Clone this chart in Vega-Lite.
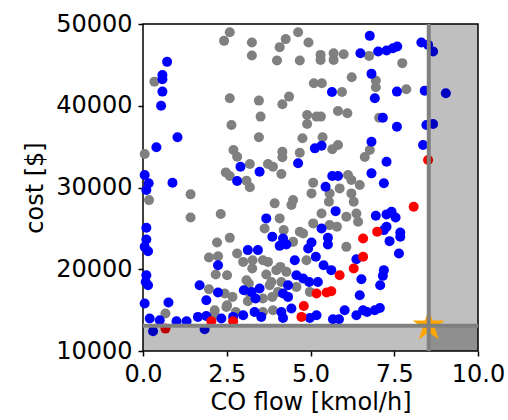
{
  "$schema": "https://vega.github.io/schema/vega-lite/v6.json",
  "width": 335,
  "height": 327,
  "autosize": {"type": "none"},
  "padding": {"left": 143, "top": 24, "right": 30, "bottom": 69},
  "background": "white",
  "config": {
    "font": "DejaVu Sans",
    "view": {"stroke": "black", "strokeWidth": 1.5},
    "axis": {
      "grid": false, "domain": false,
      "tickColor": "black", "tickSize": 5, "tickWidth": 1.5,
      "labelFont": "DejaVu Sans", "labelFontSize": 24, "labelColor": "black",
      "titleFont": "DejaVu Sans", "titleFontSize": 24, "titleFontWeight": "normal", "titleColor": "black",
      "labelFlush": false, "labelOverlap": false, "labelPadding": 6
    }
  },
  "datasets": {
    "pts": [
      {"x":2.59,"y":49000,"c":"gray"},{"x":2.42,"y":47940,"c":"gray"},{"x":3.25,"y":47730,"c":"gray"},{"x":3.25,"y":46140,"c":"gray"},{"x":0.34,"y":42950,"c":"gray"},{"x":2.59,"y":40920,"c":"gray"},{"x":2.64,"y":37650,"c":"gray"},{"x":0.05,"y":34100,"c":"gray"},{"x":2.70,"y":34590,"c":"gray"},{"x":2.81,"y":33770,"c":"gray"},{"x":3.19,"y":32870,"c":"gray"},{"x":2.47,"y":31850,"c":"gray"},{"x":2.59,"y":31400,"c":"gray"},{"x":3.09,"y":30830,"c":"gray"},{"x":3.19,"y":30020,"c":"gray"},
      {"x":4.63,"y":49000,"c":"gray"},{"x":4.26,"y":48150,"c":"gray"},{"x":4.08,"y":47170,"c":"gray"},{"x":4.94,"y":47730,"c":"gray"},{"x":4.00,"y":45530,"c":"gray"},{"x":4.68,"y":45530,"c":"gray"},{"x":5.30,"y":46220,"c":"gray"},{"x":5.30,"y":45610,"c":"gray"},{"x":5.69,"y":46430,"c":"gray"},{"x":5.69,"y":45610,"c":"gray"},{"x":5.99,"y":46310,"c":"gray"},{"x":5.10,"y":42760,"c":"gray"},{"x":5.34,"y":42760,"c":"gray"},{"x":6.23,"y":43490,"c":"gray"},{"x":5.94,"y":41690,"c":"gray"},{"x":4.36,"y":41120,"c":"gray"},{"x":4.16,"y":40180,"c":"gray"},{"x":3.46,"y":40630,"c":"gray"},{"x":3.51,"y":38670,"c":"gray"},{"x":4.90,"y":38870,"c":"gray"},{"x":5.18,"y":38670,"c":"gray"},{"x":5.31,"y":38670,"c":"gray"},{"x":4.90,"y":37770,"c":"gray"},{"x":5.82,"y":39360,"c":"gray"},{"x":6.10,"y":39080,"c":"gray"},{"x":3.46,"y":36140,"c":"gray"},{"x":4.76,"y":36020,"c":"gray"},{"x":5.36,"y":36140,"c":"gray"},{"x":5.65,"y":34670,"c":"gray"},{"x":5.82,"y":35200,"c":"gray"},{"x":4.16,"y":34380,"c":"gray"},{"x":4.16,"y":33690,"c":"gray"},{"x":4.68,"y":34260,"c":"gray"},{"x":3.73,"y":32870,"c":"gray"},{"x":3.88,"y":32540,"c":"gray"},{"x":4.13,"y":31650,"c":"gray"},{"x":6.12,"y":31520,"c":"gray"},{"x":6.22,"y":30910,"c":"gray"},{"x":6.47,"y":30300,"c":"gray"},{"x":5.08,"y":30580,"c":"gray"},{"x":6.62,"y":33730,"c":"gray"},
      {"x":6.75,"y":46100,"c":"gray"},{"x":7.74,"y":45210,"c":"gray"},{"x":6.95,"y":43080,"c":"gray"},{"x":6.95,"y":42270,"c":"gray"},{"x":7.86,"y":42020,"c":"gray"},{"x":7.05,"y":38540,"c":"gray"},{"x":6.77,"y":34590,"c":"gray"},
      {"x":0.18,"y":28460,"c":"gray"},{"x":1.42,"y":29160,"c":"gray"},{"x":1.42,"y":26340,"c":"gray"},{"x":2.32,"y":26750,"c":"gray"},{"x":2.21,"y":23280,"c":"gray"},{"x":2.59,"y":23840,"c":"gray"},{"x":1.97,"y":21440,"c":"gray"},{"x":2.24,"y":21600,"c":"gray"},{"x":2.81,"y":21930,"c":"gray"},{"x":2.99,"y":20900,"c":"gray"},{"x":3.27,"y":21110,"c":"gray"},{"x":2.17,"y":19360,"c":"gray"},{"x":2.51,"y":19270,"c":"gray"},{"x":1.97,"y":17560,"c":"gray"},{"x":2.44,"y":17030,"c":"gray"},{"x":2.67,"y":16620,"c":"gray"},{"x":3.16,"y":18260,"c":"gray"},{"x":3.13,"y":16090,"c":"gray"},{"x":2.51,"y":15600,"c":"gray"},{"x":2.14,"y":14990,"c":"gray"},{"x":0.67,"y":14580,"c":"gray"},{"x":2.14,"y":14370,"c":"gray"},
      {"x":3.93,"y":28060,"c":"gray"},{"x":4.48,"y":28460,"c":"gray"},{"x":4.43,"y":27850,"c":"gray"},{"x":5.03,"y":29280,"c":"gray"},{"x":5.57,"y":29280,"c":"gray"},{"x":5.87,"y":29890,"c":"gray"},{"x":6.22,"y":29280,"c":"gray"},{"x":5.55,"y":28250,"c":"gray"},{"x":6.29,"y":28250,"c":"gray"},{"x":5.33,"y":26830,"c":"gray"},{"x":6.07,"y":26420,"c":"gray"},{"x":6.37,"y":26830,"c":"gray"},{"x":6.42,"y":25800,"c":"gray"},{"x":4.08,"y":26220,"c":"gray"},{"x":3.63,"y":24990,"c":"gray"},{"x":4.68,"y":24580,"c":"gray"},{"x":5.08,"y":25610,"c":"gray"},{"x":5.57,"y":25400,"c":"gray"},{"x":5.79,"y":25190,"c":"gray"},{"x":6.07,"y":22740,"c":"gray"},{"x":3.58,"y":21110,"c":"gray"},{"x":4.88,"y":21110,"c":"gray"},{"x":3.26,"y":20090,"c":"gray"},{"x":3.68,"y":19360,"c":"gray"},{"x":3.98,"y":19890,"c":"gray"},{"x":4.28,"y":19680,"c":"gray"},{"x":4.13,"y":18450,"c":"gray"},{"x":3.83,"y":18450,"c":"gray"},{"x":4.58,"y":17840,"c":"gray"},{"x":4.98,"y":17230,"c":"gray"},{"x":3.58,"y":16420,"c":"gray"},{"x":3.86,"y":16620,"c":"gray"},{"x":3.88,"y":14990,"c":"gray"},{"x":3.58,"y":14780,"c":"gray"},
      {"x":3.73,"y":20900,"c":"gray"},{"x":4.10,"y":20290,"c":"gray"},{"x":3.09,"y":18660,"c":"gray"},{"x":3.19,"y":17030,"c":"gray"},{"x":3.78,"y":18050,"c":"gray"},{"x":4.03,"y":17230,"c":"gray"},{"x":2.49,"y":15390,"c":"gray"},{"x":2.77,"y":14780,"c":"gray"},{"x":4.20,"y":24790,"c":"gray"},{"x":4.48,"y":23350,"c":"gray"},{"x":4.78,"y":24380,"c":"gray"},
      {"x":0.72,"y":45370,"c":"blue"},{"x":0.58,"y":43770,"c":"blue"},{"x":0.58,"y":43250,"c":"blue"},{"x":0.58,"y":41730,"c":"blue"},{"x":0.54,"y":40010,"c":"blue"},{"x":1.03,"y":36140,"c":"blue"},{"x":0.40,"y":34920,"c":"blue"},{"x":2.91,"y":32540,"c":"blue"},{"x":2.81,"y":30790,"c":"blue"},{"x":0.05,"y":31520,"c":"blue"},{"x":0.17,"y":30510,"c":"blue"},{"x":0.88,"y":30580,"c":"blue"},
      {"x":6.49,"y":46430,"c":"blue"},{"x":5.64,"y":41690,"c":"blue"},{"x":5.13,"y":34790,"c":"blue"},{"x":5.33,"y":35110,"c":"blue"},{"x":4.63,"y":32960,"c":"blue"},{"x":3.48,"y":31930,"c":"blue"},{"x":5.65,"y":31400,"c":"blue"},{"x":5.82,"y":31400,"c":"blue"},{"x":5.45,"y":30090,"c":"blue"},
      {"x":6.77,"y":48550,"c":"blue"},{"x":8.31,"y":47730,"c":"blue"},{"x":8.51,"y":47450,"c":"blue"},{"x":8.66,"y":46630,"c":"blue"},{"x":7.02,"y":46630,"c":"blue"},{"x":7.27,"y":46750,"c":"blue"},{"x":7.46,"y":47040,"c":"blue"},{"x":7.59,"y":47240,"c":"blue"},{"x":6.82,"y":43900,"c":"blue"},{"x":6.92,"y":40920,"c":"blue"},{"x":7.58,"y":41730,"c":"blue"},{"x":8.41,"y":41850,"c":"blue"},{"x":9.04,"y":41530,"c":"blue"},{"x":7.16,"y":38540,"c":"blue"},{"x":7.58,"y":37440,"c":"blue"},{"x":8.46,"y":37650,"c":"blue"},{"x":8.66,"y":37770,"c":"blue"},{"x":6.82,"y":35600,"c":"blue"},{"x":8.36,"y":35200,"c":"blue"},{"x":7.27,"y":33150,"c":"blue"},{"x":6.82,"y":31730,"c":"blue"},{"x":7.19,"y":30510,"c":"blue"},
      {"x":0.10,"y":29690,"c":"blue"},{"x":0.10,"y":25070,"c":"blue"},{"x":0.10,"y":23650,"c":"blue"},{"x":0.15,"y":22210,"c":"blue"},{"x":0.05,"y":22740,"c":"blue"},{"x":3.13,"y":22340,"c":"blue"},{"x":2.24,"y":20500,"c":"blue"},{"x":0.10,"y":19270,"c":"blue"},{"x":0.15,"y":18050,"c":"blue"},{"x":0.08,"y":18450,"c":"blue"},{"x":1.69,"y":18050,"c":"blue"},{"x":2.24,"y":17150,"c":"blue"},{"x":3.01,"y":17440,"c":"blue"},{"x":1.89,"y":16210,"c":"blue"},{"x":0.05,"y":15810,"c":"blue"},{"x":0.76,"y":15930,"c":"blue"},{"x":0.20,"y":13970,"c":"blue"},{"x":0.50,"y":13760,"c":"blue"},{"x":1.00,"y":13640,"c":"blue"},{"x":1.30,"y":13640,"c":"blue"},{"x":1.64,"y":14170,"c":"blue"},{"x":1.89,"y":14290,"c":"blue"},{"x":2.34,"y":13970,"c":"blue"},{"x":2.69,"y":14170,"c":"blue"},{"x":2.99,"y":14370,"c":"blue"},{"x":0.30,"y":12410,"c":"blue"},{"x":1.84,"y":12660,"c":"blue"},
      {"x":5.75,"y":27110,"c":"blue"},{"x":3.68,"y":26220,"c":"blue"},{"x":3.86,"y":23970,"c":"blue"},{"x":4.18,"y":23770,"c":"blue"},{"x":4.08,"y":22860,"c":"blue"},{"x":4.28,"y":23030,"c":"blue"},{"x":5.33,"y":24990,"c":"blue"},{"x":5.03,"y":23280,"c":"blue"},{"x":4.93,"y":22540,"c":"blue"},{"x":5.52,"y":23840,"c":"blue"},{"x":5.52,"y":23030,"c":"blue"},{"x":3.43,"y":22340,"c":"blue"},{"x":4.53,"y":21110,"c":"blue"},{"x":5.16,"y":21520,"c":"blue"},{"x":5.39,"y":20500,"c":"blue"},{"x":5.62,"y":19890,"c":"blue"},{"x":6.37,"y":21230,"c":"blue"},{"x":4.58,"y":19270,"c":"blue"},{"x":4.78,"y":18870,"c":"blue"},{"x":4.96,"y":18450,"c":"blue"},{"x":5.22,"y":18450,"c":"blue"},{"x":6.52,"y":18780,"c":"blue"},{"x":4.33,"y":18050,"c":"blue"},{"x":4.18,"y":17030,"c":"blue"},{"x":4.33,"y":16620,"c":"blue"},{"x":3.48,"y":17640,"c":"blue"},{"x":3.24,"y":17230,"c":"blue"},{"x":3.36,"y":16420,"c":"blue"},{"x":6.47,"y":16820,"c":"blue"},{"x":3.33,"y":14780,"c":"blue"},{"x":3.53,"y":14170,"c":"blue"},{"x":4.13,"y":14780,"c":"blue"},{"x":4.18,"y":14040,"c":"blue"},{"x":4.43,"y":15190,"c":"blue"},{"x":4.98,"y":14040,"c":"blue"},{"x":5.18,"y":14370,"c":"blue"},{"x":5.67,"y":13880,"c":"blue"},{"x":5.85,"y":13880,"c":"blue"},{"x":6.02,"y":14990,"c":"blue"},{"x":6.37,"y":14370,"c":"blue"},{"x":6.57,"y":14990,"c":"blue"},
      {"x":6.95,"y":26540,"c":"blue"},{"x":7.27,"y":26710,"c":"blue"},{"x":7.42,"y":27030,"c":"blue"},{"x":7.54,"y":26340,"c":"blue"},{"x":7.19,"y":24790,"c":"blue"},{"x":7.27,"y":25190,"c":"blue"},{"x":7.68,"y":24500,"c":"blue"},{"x":7.68,"y":23970,"c":"blue"},{"x":7.36,"y":23440,"c":"blue"},{"x":7.64,"y":21930,"c":"blue"},{"x":7.19,"y":19890,"c":"blue"},{"x":7.16,"y":19190,"c":"blue"},{"x":7.08,"y":18050,"c":"blue"},{"x":6.69,"y":14780,"c":"blue"},{"x":6.92,"y":14990,"c":"blue"},{"x":7.07,"y":15270,"c":"blue"},
      {"x":8.51,"y":33360,"c":"red"},{"x":2.04,"y":13640,"c":"red"},{"x":2.69,"y":13640,"c":"red"},{"x":0.67,"y":12740,"c":"red"},{"x":6.57,"y":23770,"c":"red"},{"x":6.29,"y":20090,"c":"red"},{"x":6.57,"y":21520,"c":"red"},{"x":5.87,"y":19270,"c":"red"},{"x":5.18,"y":17030,"c":"red"},{"x":5.48,"y":17150,"c":"red"},{"x":5.62,"y":17310,"c":"red"},{"x":4.80,"y":15510,"c":"red"},{"x":4.73,"y":14170,"c":"red"},{"x":8.08,"y":27640,"c":"red"},{"x":6.99,"y":24580,"c":"red"}
    ],
    "bands": [
      {"x": 8.53, "x2": 10, "y": 10000, "y2": 50000},
      {"x": 0, "x2": 10, "y": 10000, "y2": 13090}
    ],
    "thr": [{"x": 8.53, "y": 13090}]
  },
  "layer": [
    {
      "data": {"name": "pts"},
      "mark": {"type": "circle", "size": 100, "opacity": 1},
      "encoding": {
        "x": {"field": "x", "type": "quantitative", "title": "CO flow [kmol/h]",
              "scale": {"domain": [0, 10], "nice": false, "zero": false},
              "axis": {"values": [0, 2.5, 5, 7.5, 10], "format": ".1f"}},
        "y": {"field": "y", "type": "quantitative", "title": "cost [$]",
              "scale": {"domain": [10000, 50000], "nice": false, "zero": false},
              "axis": {"values": [10000, 20000, 30000, 40000, 50000], "format": "d", "titlePadding": 8}},
        "color": {"field": "c", "type": "nominal", "legend": null,
                  "scale": {"domain": ["gray", "blue", "red"], "range": ["#808080", "#0000ff", "#ff0000"]}}
      }
    },
    {
      "data": {"name": "bands"},
      "mark": {"type": "rect", "color": "black", "opacity": 0.25},
      "encoding": {
        "x": {"field": "x", "type": "quantitative", "title": "CO flow [kmol/h]"},
        "x2": {"field": "x2"},
        "y": {"field": "y", "type": "quantitative", "title": "cost [$]"},
        "y2": {"field": "y2"}
      }
    },
    {
      "data": {"name": "thr"},
      "mark": {"type": "point", "filled": true, "opacity": 1, "color": "#ffa500", "size": 1150,
               "shape": "M0,-1L0.225,-0.309L0.951,-0.309L0.363,0.118L0.588,0.809L0,0.382L-0.588,0.809L-0.363,0.118L-0.951,-0.309L-0.225,-0.309Z"},
      "encoding": {
        "x": {"field": "x", "type": "quantitative", "title": "CO flow [kmol/h]"},
        "y": {"field": "y", "type": "quantitative", "title": "cost [$]"}
      }
    },
    {
      "data": {"name": "thr"},
      "mark": {"type": "rule", "color": "#808080", "strokeWidth": 4},
      "encoding": {
        "x": {"field": "x", "type": "quantitative", "title": "CO flow [kmol/h]"}
      }
    },
    {
      "data": {"name": "thr"},
      "mark": {"type": "rule", "color": "#808080", "strokeWidth": 4},
      "encoding": {
        "y": {"field": "y", "type": "quantitative", "title": "cost [$]"}
      }
    }
  ]
}
